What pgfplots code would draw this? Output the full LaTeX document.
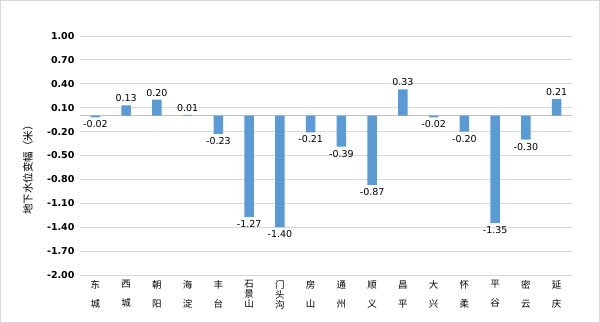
\documentclass[border=0pt]{standalone}
\usepackage{pgfplots}
\pgfplotsset{compat=1.18}
\usepackage{fontspec}
\setmainfont{DejaVu Sans}
\newfontfamily\cjk{Noto Sans CJK SC}
\definecolor{barblue}{HTML}{5B9BD5}
\definecolor{gridgray}{HTML}{D9D9D9}
\begin{document}
\begin{tikzpicture}
\path[use as bounding box] (-80pt,-48pt) rectangle (520pt,275pt);
\draw[color=gridgray, line width=0.8pt] (-79.4pt,-47.4pt) rectangle (519.4pt,274.4pt);
\begin{axis}[
  at={(0,0)}, anchor=south west,
  scale only axis, width=492pt, height=239pt,
  xmin=-0.5, xmax=15.5, ymin=-2, ymax=1,
  ytick={-2,-1.7,-1.4,-1.1,-0.8,-0.5,-0.2,0.1,0.4,0.7,1},
  xtick={0,...,15},
  xticklabels={{东\\[8pt]城},{西\\[8pt]城},{朝\\[8pt]阳},{海\\[8pt]淀},{丰\\[8pt]台},{石\\[-1pt]景\\[-1pt]山},{门\\[-1pt]头\\[-1pt]沟},{房\\[8pt]山},{通\\[8pt]州},{顺\\[8pt]义},{昌\\[8pt]平},{大\\[8pt]兴},{怀\\[8pt]柔},{平\\[8pt]谷},{密\\[8pt]云},{延\\[8pt]庆}},
  xticklabel style={align=center, font=\cjk\fontsize{9.5}{11}\selectfont, anchor=north, yshift=-2pt},
  yticklabel style={font=\bfseries\fontsize{9.5}{11}\selectfont, xshift=-2pt},
  /pgf/number format/.cd, fixed, fixed zerofill, precision=2, assume math mode=true,
  /pgfplots/.cd,
  axis line style={draw=none},
  major tick length=0pt,
  ymajorgrids, grid style={color=gridgray, line width=0.8pt},
  ylabel={\cjk 地下水位变幅（米）},
  ylabel style={font=\fontsize{10.5}{12}\selectfont, at={(axis description cs:-0.106,0.45)}, anchor=center, rotate=0},
  clip=false,
  nodes near coords,
  nodes near coords align={vertical},
  every node near coord/.append style={font=\fontsize{9.5}{11}\selectfont, /pgf/number format/fixed, /pgf/number format/fixed zerofill, /pgf/number format/precision=2, /pgf/number format/assume math mode=true},
  extra y ticks={0}, extra y tick labels={},
  extra y tick style={grid style={color=gray!50, line width=0.8pt}},
]
\addplot[ybar, bar width=9.5pt, fill=barblue, draw=none] coordinates {
(0,-0.02) (1,0.13) (2,0.20) (3,0.01) (4,-0.23) (5,-1.27) (6,-1.40) (7,-0.21)
(8,-0.39) (9,-0.87) (10,0.33) (11,-0.02) (12,-0.20) (13,-1.35) (14,-0.30) (15,0.21)
};
\end{axis}
\end{tikzpicture}
\end{document}
